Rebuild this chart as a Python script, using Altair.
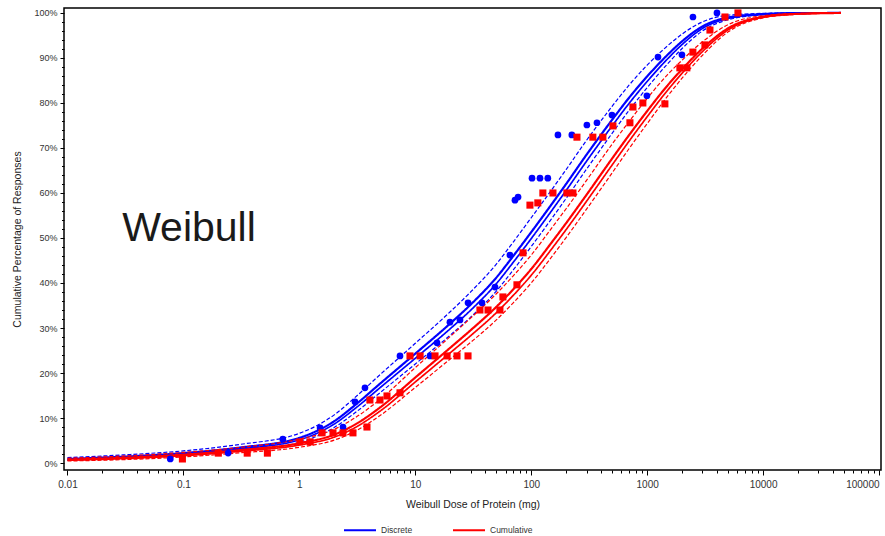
import altair as alt
import pandas as pd

# ---- fitted curves (percent) read at these doses ----
dose_grid = [0.01, 0.03, 0.1, 0.3, 1, 2, 3, 5, 10, 20, 30, 50, 70, 100, 150, 200, 300, 500,
             700, 1000, 1500, 2000, 3000, 5000, 10000, 20000, 47000]

discrete_fit   = [0.9, 1.4, 2.2, 3.4, 5.6, 9.3, 12.8, 17.7, 24.3, 31.0, 35.2, 41.2, 46.0, 51.3, 57.5, 62.0, 68.5, 76.3, 81.2, 85.9, 90.7, 93.7, 97.0, 99.0, 99.75, 99.97, 100]
discrete_inner = [0.77, 1.22, 1.98, 3.09, 5.15, 8.67, 12.04, 16.8, 23.27, 29.83, 33.94, 39.85, 44.6, 49.86, 56.06, 60.56, 67.06, 74.95, 79.94, 84.78, 89.8, 92.98, 96.55, 98.78, 99.68, 99.96, 100]
discrete_upper = [1.2, 1.8, 2.7, 4.1, 6.6, 10.7, 14.5, 19.7, 26.6, 33.6, 38.0, 44.2, 49.1, 54.5, 60.7, 65.2, 71.7, 79.3, 84.0, 88.4, 92.7, 95.3, 98.0, 99.5, 99.9, 100.0, 100]
discrete_lower = [0.6, 1.0, 1.7, 2.7, 4.6, 7.9, 11.1, 15.7, 22.0, 28.4, 32.4, 38.2, 42.9, 48.1, 54.3, 58.8, 65.3, 73.3, 78.4, 83.4, 88.7, 92.1, 96.0, 98.5, 99.6, 99.94, 100]

cumul_fit   = [0.75, 1.15, 1.85, 2.85, 4.4, 6.3, 8.5, 12.4, 19.0, 25.6, 29.5, 34.7, 38.6, 43.1, 49.0, 53.3, 59.6, 67.7, 72.9, 78.2, 83.9, 87.5, 92.1, 96.6, 99.15, 99.8, 100]
cumul_inner = [0.62, 0.97, 1.63, 2.58, 4.0, 5.76, 7.83, 11.59, 18.01, 24.48, 28.29, 33.4, 37.25, 41.71, 47.56, 51.86, 58.16, 66.26, 71.55, 76.94, 82.82, 86.6, 91.43, 96.24, 99.04, 99.76, 100]
cumul_upper = [1.05, 1.55, 2.35, 3.45, 5.3, 7.5, 10.0, 14.2, 21.2, 28.1, 32.2, 37.6, 41.6, 46.2, 52.2, 56.5, 62.8, 70.9, 75.9, 81.0, 86.3, 89.5, 93.6, 97.4, 99.4, 99.88, 100]
cumul_lower = [0.45, 0.75, 1.35, 2.25, 3.5, 5.1, 7.0, 10.6, 16.8, 23.1, 26.8, 31.8, 35.6, 40.0, 45.8, 50.1, 56.4, 64.5, 69.9, 75.4, 81.5, 85.5, 90.6, 95.8, 98.9, 99.72, 100]

# ---- observed points ----
discrete_dose = [0.077, 0.243, 0.72, 1.51, 2.38, 3.02, 3.68, 7.38, 13.4, 15.4, 19.9, 24.3, 28.5, 37.6, 48.7,
                 65.5, 72.4, 77, 101.6, 119, 139, 170, 224, 302, 369, 497, 995, 1240, 1995, 2483, 4000]
discrete_pct  = [0.9, 2.2, 5.3, 7.8, 8.0, 13.6, 16.7, 23.8, 23.8, 26.7, 31.3, 31.8, 35.6, 35.6, 39.1,
                 46.2, 58.4, 59.1, 63.3, 63.3, 63.3, 72.9, 72.9, 75.1, 75.6, 77.3, 81.6, 90.2, 90.7, 99.1, 100]

cumul_dose = [0.098, 0.2, 0.355, 0.53, 1.01, 1.24, 1.57, 1.95, 2.38, 2.9, 3.83, 4.06, 4.96, 5.7, 7.38,
              9.0, 11, 14.8, 18.8, 22.9, 28.5, 36.1, 42.4, 53.7, 57, 75.3, 85, 97.5, 114, 126, 154, 203, 229,
              248, 340, 415, 507, 710, 754, 918, 1422, 1915, 2200, 2480, 3150, 3480, 4690, 6070]
cumul_pct  = [0.9, 2.2, 2.2, 2.2, 4.7, 4.7, 6.7, 6.7, 6.7, 6.7, 8.0, 14.0, 14.0, 14.9, 15.6,
              23.8, 23.8, 23.8, 23.8, 23.8, 23.8, 34, 34, 34, 36.9, 39.6, 46.7, 57.3, 57.8, 60, 60, 60, 60,
              72.4, 72.4, 72.4, 74.9, 75.6, 79.1, 80, 79.8, 87.8, 87.8, 91.3, 92.9, 96.2, 99.1, 100]

groups = ["Discrete", "Cumulative"]
colors = ["#0000ff", "#ff0000"]

x_major = [0.01, 0.1, 1, 10, 100, 1000, 10000, 100000]
x_ticks = []
for d in x_major[:-1]:
    for m in range(1, 10):
        x_ticks.append(round(d * m, 6))
x_ticks.append(100000)
y_ticks = list(range(0, 101, 2))

annot_text = ["Weibull"]
annot_x = [0.0296]
annot_y = [49.3]

FONT = "Liberation Sans"

def line_frame(group, series):
    rows = []
    for style, vals, lid in series:
        for d, v in zip(dose_grid, vals):
            rows.append({"group": group, "line": lid, "style": style, "dose": d, "pct": v})
    return pd.DataFrame(rows)

blue_lines = line_frame("Discrete", [("outer", discrete_upper, "bu"), ("fit", discrete_fit, "bf"),
                                     ("inner", discrete_inner, "bi"), ("outer", discrete_lower, "bl")])
red_lines = line_frame("Cumulative", [("outer", cumul_upper, "ru"), ("fit", cumul_fit, "rf"),
                                      ("inner", cumul_inner, "ri"), ("outer", cumul_lower, "rl")])

xscale = alt.Scale(type="log", domain=[0.00933, 104000], nice=False)
yscale = alt.Scale(domain=[-1.55, 101.1], nice=False, zero=False)
cscale = alt.Scale(domain=groups, range=colors)

XDEC = "abs(log(datum.value)/LN10 - round(log(datum.value)/LN10)) < 1e-6"
x_axis = alt.Axis(
    values=x_ticks,
    labelExpr=XDEC + " ? '' + datum.value : ''",
    tickSize={"condition": {"test": XDEC, "value": 5}, "value": 3},
    labelAlign={"condition": {"test": "datum.value >= 99999", "value": "right"}, "value": "center"},
    tickColor="black", tickWidth=1, domain=False, grid=False,
    labelFont=FONT, labelFontSize=10, labelColor="#333333", labelPadding=4,
    labelOverlap=False, labelFlush=False,
    title="Weibull Dose of Protein (mg)", titleFont=FONT, titleFontSize=10.5,
    titleFontWeight="normal", titleColor="#222222", titlePadding=10,
)
y_axis = alt.Axis(
    values=y_ticks,
    labelExpr="datum.value % 10 == 0 ? datum.value + '%' : ''",
    tickSize={"condition": {"test": "datum.value % 10 == 0", "value": 4}, "value": 2.5},
    tickColor="black", tickWidth=1, domain=False, grid=False,
    labelFont=FONT, labelFontSize=9, labelColor="#333333", labelPadding=3,
    labelOverlap=False, labelFlush=False,
    title="Cumulative Percentage of Responses", titleFont=FONT, titleFontSize=10.5,
    titleFontWeight="normal", titleColor="#222222", titlePadding=11,
)

X = alt.X("dose:Q", scale=xscale, axis=x_axis)
Y = alt.Y("pct:Q", scale=yscale, axis=y_axis)

dash_scale = alt.Scale(domain=["fit", "inner", "outer"], range=[[1, 0], [1, 0], [4, 2]])
width_scale = alt.Scale(domain=["fit", "inner", "outer"], range=[2.2, 1.2, 1.2])

legend = alt.Legend(
    orient="none", legendX=279, legendY=505, direction="horizontal", title=None,
    symbolType="stroke", symbolSize=1024, symbolStrokeWidth=2, labelFont=FONT,
    labelFontSize=8.5, labelColor="#333333", labelOffset=4, columnPadding=36, padding=0,
)

def lines_layer(df, with_legend):
    return alt.Chart(df).mark_line(interpolate="monotone").encode(
        x=X, y=Y,
        color=alt.Color("group:N", scale=cscale, legend=legend if with_legend else None),
        strokeDash=alt.StrokeDash("style:N", scale=dash_scale, legend=None),
        strokeWidth=alt.StrokeWidth("style:N", scale=width_scale, legend=None),
        detail="line:N",
    )

blue_pts = pd.DataFrame({"dose": discrete_dose, "pct": discrete_pct, "group": "Discrete"})
red_pts = pd.DataFrame({"dose": cumul_dose, "pct": cumul_pct, "group": "Cumulative"})

pts_blue = alt.Chart(blue_pts).mark_point(shape="circle", filled=True, opacity=1, size=45).encode(
    x=X, y=Y, color=alt.Color("group:N", scale=cscale, legend=None),
)
pts_red = alt.Chart(red_pts).mark_point(shape="square", filled=True, opacity=1, size=50).encode(
    x=X, y=Y, color=alt.Color("group:N", scale=cscale, legend=None),
)

annot = alt.Chart(pd.DataFrame({"t": annot_text, "dose": annot_x, "pct": annot_y})).mark_text(
    align="left", baseline="alphabetic", font=FONT, fontSize=41, color="#1a1a1a"
).encode(x=X, y=Y, text="t:N")

chart = alt.layer(
    lines_layer(blue_lines, True), lines_layer(red_lines, False), pts_blue, pts_red, annot
).properties(
    width=817, height=462,
    autosize=alt.AutoSizeParams(type="none"),
    padding={"left": 64, "top": 8, "right": 4, "bottom": 66},
    background="white",
).configure_view(stroke="black", strokeWidth=1.5)

chart.save("out.html", embed_options={"renderer": "svg", "actions": False})
